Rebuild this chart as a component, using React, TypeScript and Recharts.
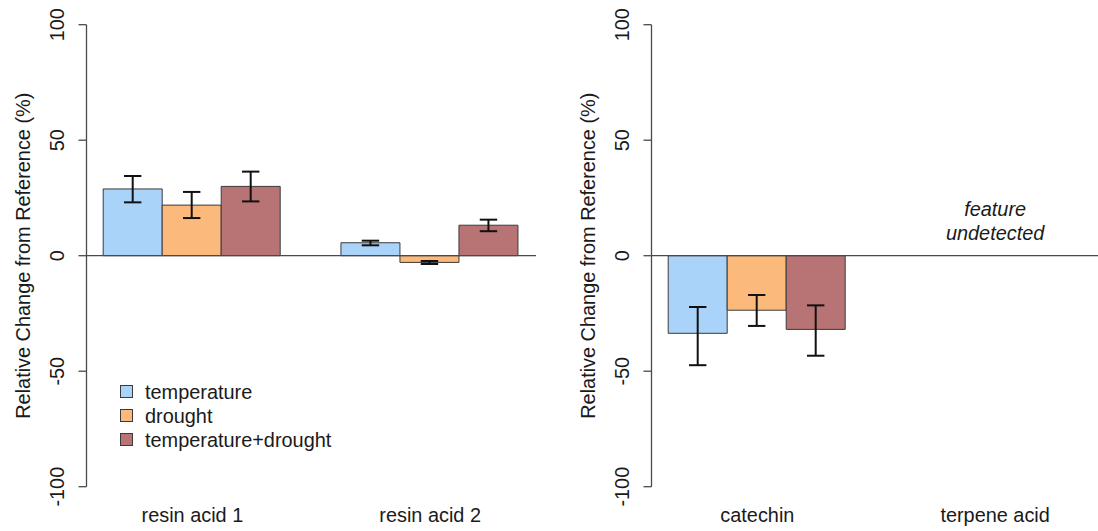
import { BarChart, Bar, XAxis, YAxis, ErrorBar, ReferenceLine, Legend } from "recharts";

const FONT = '"Liberation Sans", Arial, Helvetica, sans-serif';
const TEXT_SIZE = 19.9;
const INK = "#1a1a1a";
const AXIS = "#4a4a4a";

const treatments = ["temperature", "drought", "temperature+drought"];
const treatmentColors = ["#A9D3F9", "#FBBA7C", "#B87474"];

const yTicks = [-100, -50, 0, 50, 100];

// left panel: resin acids
const leftCompounds = ["resin acid 1", "resin acid 2"];
const leftTemperature = [28.9, 5.6];
const leftDrought = [21.9, -2.9];
const leftCombined = [30.0, 13.2];
// error bar ends as [low, high]
const leftTemperatureCI = [[23.1, 34.5], [4.5, 6.5]];
const leftDroughtCI = [[16.3, 27.6], [-3.6, -2.3]];
const leftCombinedCI = [[23.5, 36.4], [10.6, 15.6]];

// right panel: terpene acid was not detected
const rightCompounds = ["catechin", "terpene acid"];
const rightTemperature = [-33.6, null];
const rightDrought = [-23.6, null];
const rightCombined = [-31.9, null];
const rightTemperatureCI = [[-47.4, -22.2], null];
const rightDroughtCI = [[-30.4, -17.0], null];
const rightCombinedCI = [[-43.3, -21.5], null];

type CI = number[] | null;

function buildRows(names: string[], means: (number | null)[][], cis: CI[][]) {
  return names.map((name, i) => {
    const row: any = { name };
    means.forEach((series, s) => {
      const m = series[i];
      const ci = cis[s][i];
      row[`s${s}`] = m;
      // ErrorBar wants [below, above] distances from the bar end
      row[`e${s}`] = m == null || ci == null ? null : [m - ci[0], ci[1] - m];
    });
    return row;
  });
}

const leftRows = buildRows(
  leftCompounds,
  [leftTemperature, leftDrought, leftCombined],
  [leftTemperatureCI, leftDroughtCI, leftCombinedCI]
);
const rightRows = buildRows(
  rightCompounds,
  [rightTemperature, rightDrought, rightCombined],
  [rightTemperatureCI, rightDroughtCI, rightCombinedCI]
);

// eslint-disable-next-line @typescript-eslint/no-explicit-any
function YTick({ x, y, payload }: any) {
  const bx = x - 14;
  return (
    <text
      x={bx}
      y={y}
      transform={`rotate(-90 ${bx} ${y})`}
      textAnchor="middle"
      fontSize={TEXT_SIZE}
      fontFamily={FONT}
      fill={INK}
    >
      {payload.value}
    </text>
  );
}

// eslint-disable-next-line @typescript-eslint/no-explicit-any
function XTick({ x, y, payload }: any) {
  return (
    <text x={x} y={y + 35} textAnchor="middle" fontSize={TEXT_SIZE} fontFamily={FONT} fill={INK}>
      {payload.value}
    </text>
  );
}

// eslint-disable-next-line @typescript-eslint/no-explicit-any
function YTitle({ viewBox }: any) {
  const bx = viewBox.x + viewBox.width - 56;
  const cy = viewBox.y + viewBox.height / 2;
  return (
    <text
      x={bx}
      y={cy}
      transform={`rotate(-90 ${bx} ${cy})`}
      textAnchor="middle"
      fontSize={TEXT_SIZE}
      fontFamily={FONT}
      fill={INK}
    >
      Relative Change from Reference (%)
    </text>
  );
}

// eslint-disable-next-line @typescript-eslint/no-explicit-any
function UndetectedNote({ viewBox }: any) {
  const cx = viewBox.x;
  const top = viewBox.y;
  return (
    <text textAnchor="middle" fontSize={TEXT_SIZE} fontFamily={FONT} fontStyle="italic" fill={INK}>
      <tspan x={cx} y={top + 191.5}>feature</tspan>
      <tspan x={cx} y={top + 214.8}>undetected</tspan>
    </text>
  );
}

// eslint-disable-next-line @typescript-eslint/no-explicit-any
function TreatmentLegend({ payload }: any) {
  if (!payload) return null;
  // keep the series order rather than the alphabetical one
  const items = [...payload].sort(
    (a: { value: string }, b: { value: string }) =>
      treatments.indexOf(a.value) - treatments.indexOf(b.value)
  );
  return (
    <div style={{ fontFamily: FONT, fontSize: TEXT_SIZE, color: INK }}>
      {items.map((entry: { color: string; value: string }, i: number) => (
        <div key={i} style={{ display: "flex", alignItems: "center", height: 24, lineHeight: "24px" }}>
          <div
            style={{
              width: 11,
              height: 11,
              background: entry.color,
              border: "1px solid #3a3a3a",
              marginRight: 12,
              flexShrink: 0,
            }}
          />
          {entry.value}
        </div>
      ))}
    </div>
  );
}

interface PanelProps {
  rows: any[];
  width: number;
  marginLeft: number;
  marginRight: number;
  legend?: boolean;
  note?: string;
}

function Panel({ rows, width, marginLeft, marginRight, legend, note }: PanelProps) {
  return (
    <BarChart
      width={width}
      height={531}
      data={rows}
      margin={{ top: 24.7, right: marginRight, bottom: 0, left: marginLeft }}
      barCategoryGap={29.7}
      barGap={0}
    >
      <XAxis
        dataKey="name"
        axisLine={false}
        tickLine={false}
        tickSize={0}
        tickMargin={0}
        height={44.3}
        padding={{ left: -13, right: -13 }}
        tick={<XTick />}
        interval={0}
      />
      <XAxis xAxisId="zero" type="number" domain={[0, 1]} hide />
      <YAxis
        domain={[-100, 100]}
        ticks={yTicks}
        width={80}
        tickSize={8}
        tickMargin={0}
        axisLine={{ stroke: AXIS, strokeWidth: 1.3 }}
        tickLine={{ stroke: AXIS, strokeWidth: 1.3 }}
        tick={<YTick />}
        label={<YTitle />}
      />
      <ReferenceLine y={0} xAxisId="zero" stroke={AXIS} strokeWidth={1.3} />
      {treatments.map((t, s) => (
        <Bar
          key={t}
          dataKey={`s${s}`}
          name={t}
          fill={treatmentColors[s]}
          stroke="#3a3a3a"
          strokeWidth={1}
          isAnimationActive={false}
        >
          <ErrorBar dataKey={`e${s}`} width={8.7} strokeWidth={2} stroke="#111" />
        </Bar>
      ))}
      {note && <ReferenceLine x={note} stroke="none" label={<UndetectedNote />} />}
      {legend && (
        <Legend
          layout="vertical"
          align="center"
          verticalAlign="middle"
          content={<TreatmentLegend />}
          wrapperStyle={{ left: 120, top: 379.5, width: 260, transform: "none" }}
        />
      )}
    </BarChart>
  );
}

export default function App() {
  return (
    <div
      style={{
        position: "absolute",
        left: 0,
        top: 0,
        width: 1098,
        height: 531,
        overflow: "hidden",
        background: "#fff",
      }}
    >
      <div style={{ position: "absolute", left: 0, top: 0 }}>
        <Panel rows={leftRows} width={560} marginLeft={6.5} marginRight={24} legend />
      </div>
      <div style={{ position: "absolute", left: 560, top: 0 }}>
        <Panel rows={rightRows} width={541} marginLeft={11.5} marginRight={0} note="terpene acid" />
      </div>
    </div>
  );
}
